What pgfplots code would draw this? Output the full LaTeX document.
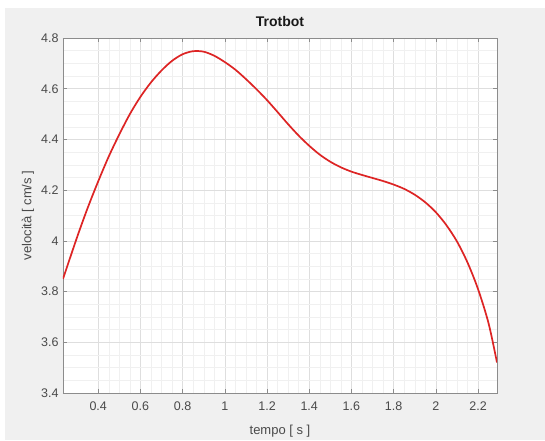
\documentclass[border=0pt]{standalone}
\usepackage{pgfplots}
\pgfplotsset{compat=1.18}
\usepackage{fontspec}
\setmainfont{Liberation Sans}
\definecolor{figbg}{HTML}{F0F0F0}
\definecolor{linered}{HTML}{DD2424}
\definecolor{ticktxt}{HTML}{4A4A4A}
\begin{document}
\begin{tikzpicture}[x=1pt,y=1pt]
\useasboundingbox (-63,-47) rectangle (482,393);
\fill[white] (-63,-47) rectangle (482,393);
\fill[figbg] (-58,-47) rectangle (482,385);
\begin{axis}[
  scale only axis, width=434pt, height=355pt, at={(0,0)}, anchor=south west,
  axis background/.style={fill=white},
  xmin=0.233, xmax=2.29, ymin=3.4, ymax=4.8,
  xtick={0.4,0.6,0.8,1,1.2,1.4,1.6,1.8,2,2.2},
  xticklabels={0.4,0.6,0.8,1,1.2,1.4,1.6,1.8,2,2.2},
  ytick={3.4,3.6,3.8,4,4.2,4.4,4.6,4.8},
  yticklabels={3.4,3.6,3.8,4,4.2,4.4,4.6,4.8},
  minor x tick num=3, minor y tick num=3,
  grid=both,
  major grid style={color=black!13, line width=0.5pt},
  minor grid style={color=black!6, line width=0.4pt},
  axis line style={color=black!45, line width=0.8pt},
  tick style={color=black!45, line width=0.6pt},
  major tick length=4pt, minor tick length=0pt,
  tick align=inside,
  ticklabel style={font=\fontsize{12.5}{14}\selectfont, text=ticktxt},
  xticklabel style={yshift=-5pt},
  yticklabel style={xshift=-1pt},
  title={\textbf{Trotbot}},
  title style={font=\fontsize{14}{16}\selectfont, text=black!90, at={(axis description cs:0.5,1)}, anchor=base, yshift=6pt},
  xlabel={tempo [ s ]},
  ylabel={velocità [ cm/s ]},
  xlabel style={font=\fontsize{13}{15}\selectfont, text=ticktxt, at={(axis description cs:0.5,-0.107)}, anchor=center},
  ylabel style={font=\fontsize{13}{15}\selectfont, text=ticktxt, at={(axis description cs:-0.081,0.5)}, anchor=center},
]
\addplot[color=linered, line width=1.7pt, smooth, line join=round] coordinates {
(0.233,3.850)
(0.30,4.015)
(0.35,4.130)
(0.40,4.235)
(0.45,4.333)
(0.50,4.420)
(0.55,4.500)
(0.60,4.568)
(0.65,4.625)
(0.70,4.672)
(0.75,4.710)
(0.80,4.736)
(0.85,4.748)
(0.90,4.746)
(0.95,4.730)
(1.00,4.705)
(1.05,4.675)
(1.10,4.638)
(1.15,4.598)
(1.20,4.555)
(1.25,4.508)
(1.30,4.460)
(1.35,4.415)
(1.40,4.375)
(1.45,4.340)
(1.50,4.312)
(1.55,4.290)
(1.60,4.273)
(1.65,4.260)
(1.70,4.248)
(1.75,4.236)
(1.80,4.222)
(1.85,4.205)
(1.90,4.182)
(1.95,4.152)
(2.00,4.113)
(2.05,4.062)
(2.10,3.998)
(2.15,3.915)
(2.20,3.810)
(2.25,3.675)
(2.29,3.520)
};
\end{axis}
\end{tikzpicture}
\end{document}
